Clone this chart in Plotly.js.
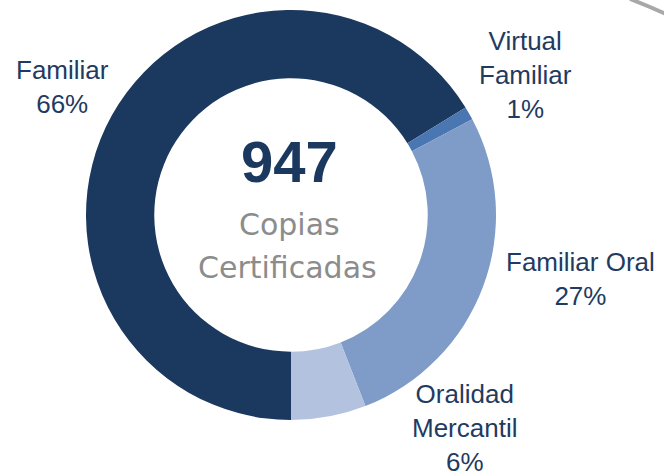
<!DOCTYPE html>
<html>
<head>
<meta charset="utf-8">
<script src="https://cdn.plot.ly/plotly-3.0.1.min.js"></script>
<style>html,body{margin:0;padding:0;background:#fff;}#chart{width:664px;height:476px;}</style>
</head>
<body>
<div id="chart"></div>
<script>
// Data
const categories = ["Familiar", "Virtual Familiar", "Familiar Oral", "Oralidad Mercantil"];
const labelLines = ["Familiar", "Virtual<br>Familiar", "Familiar Oral", "Oralidad<br>Mercantil"];
const values = [627, 10, 254, 56];
const colors = ["#1b385f", "#4a77b1", "#7f9bc7", "#b3c2de"];
const centerNumber = "947";
const centerText = ["Copias", "Certificadas"];

const W = 664, H = 476;
const px = x => x / W;
const py = y => 1 - y / H;

const total = values.reduce((a, b) => a + b, 0);
const labelPos = [[62, 87], [525, 75], [580, 279], [464, 428]];

const annotations = categories.map((c, i) => ({
  text: labelLines[i] + "<br>" + Math.round(values[i] / total * 100) + "%",
  x: px(labelPos[i][0]), y: py(labelPos[i][1]),
  xref: "paper", yref: "paper", xanchor: "center", yanchor: "middle",
  align: "center", showarrow: false,
  font: {family: "Liberation Sans, Arial, sans-serif", size: 26, color: "#1f3b61"}
}));
annotations.push({
  text: "<b>" + centerNumber + "</b>", x: px(289), y: py(161),
  xref: "paper", yref: "paper", xanchor: "center", yanchor: "middle", showarrow: false,
  font: {family: "Liberation Sans, Arial, sans-serif", size: 58, color: "#1b385f"}
});
annotations.push({
  text: centerText[0], x: px(289), y: py(224),
  xref: "paper", yref: "paper", xanchor: "center", yanchor: "middle", showarrow: false,
  font: {family: "DejaVu Sans, sans-serif", size: 30, color: "#8c8c8c"}
});
annotations.push({
  text: centerText[1], x: px(287), y: py(267),
  xref: "paper", yref: "paper", xanchor: "center", yanchor: "middle", showarrow: false,
  font: {family: "DejaVu Sans, sans-serif", size: 30, color: "#8c8c8c"}
});

const data = [{
  type: "pie",
  labels: categories,
  values: values,
  hole: 0.667,
  sort: false,
  direction: "clockwise",
  rotation: 180,
  textinfo: "none",
  showlegend: false,
  marker: {colors: colors, line: {color: "#ffffff", width: 0}},
  domain: {x: [px(85), px(497)], y: [py(420), py(10)]}
}];

const layout = {
  width: W, height: H,
  margin: {l: 0, r: 0, t: 0, b: 0},
  paper_bgcolor: "#ffffff",
  showlegend: false,
  annotations: annotations,
  shapes: [{
    type: "path", xref: "paper", yref: "paper",
    path: "M " + px(630) + " " + py(-1) + " Q " + px(648) + " " + py(6) + " " + px(666) + " " + py(14),
    line: {color: "#a8a8a8", width: 4}
  }]
};

Plotly.newPlot("chart", data, layout, {displayModeBar: false, staticPlot: true});
</script>
</body>
</html>
